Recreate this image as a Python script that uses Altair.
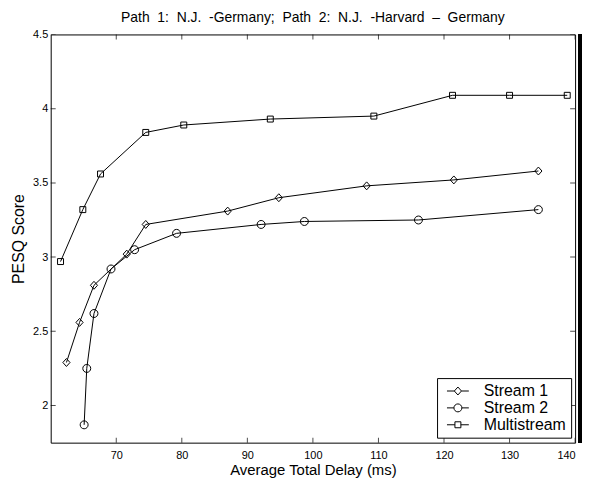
import altair as alt
import pandas as pd

# ---- data ----
series_names = ["Stream 1", "Stream 2", "Multistream"]

stream1_delay = [62.4, 64.4, 66.6, 71.6, 74.5, 87.0, 94.8, 108.2, 121.5, 134.4]
stream1_pesq = [2.29, 2.56, 2.81, 3.02, 3.22, 3.31, 3.40, 3.48, 3.52, 3.58]

stream2_delay = [65.1, 65.5, 66.6, 69.2, 72.8, 79.2, 92.1, 98.7, 116.1, 134.4]
stream2_pesq = [1.87, 2.25, 2.62, 2.92, 3.05, 3.16, 3.22, 3.24, 3.25, 3.32]

multi_delay = [61.5, 64.9, 67.6, 74.5, 80.3, 93.5, 109.3, 121.3, 130.0, 138.8]
multi_pesq = [2.97, 3.32, 3.56, 3.84, 3.89, 3.93, 3.95, 4.09, 4.09, 4.09]

x_ticks = [70, 80, 90, 100, 110, 120, 130, 140]
y_ticks = [2, 2.5, 3, 3.5, 4, 4.5]

X_DOMAIN = [60, 140]
Y_DOMAIN = [1.75, 4.5]

title_words = ["Path", "1:", "N.J.", "-Germany;", "Path", "2:", "N.J.", "-Harvard", "\u2013", "Germany"]
title_text = " \u00a0".join(title_words)

# ---- tables ----
rows = []
for name, xs, ys in zip(series_names,
                        [stream1_delay, stream2_delay, multi_delay],
                        [stream1_pesq, stream2_pesq, multi_pesq]):
    for i, (xv, yv) in enumerate(zip(xs, ys)):
        rows.append({"series": name, "delay": xv, "pesq": yv, "idx": i})
df = pd.DataFrame(rows)

xt = pd.DataFrame({"t": x_ticks})
yt = pd.DataFrame({"t": y_ticks})

FONT = "Liberation Sans"

xscale = alt.Scale(domain=X_DOMAIN, nice=False, zero=False)
yscale = alt.Scale(domain=Y_DOMAIN, nice=False, zero=False)

X = alt.X("delay:Q", scale=xscale,
          axis=alt.Axis(values=x_ticks, title="Average Total Delay (ms)",
                        tickSize=0, domain=False, grid=False, labelPadding=7,
                        titlePadding=2, labelFont=FONT, labelFontSize=11,
                        labelColor="black", titleFont=FONT, titleFontSize=15,
                        titleFontWeight="normal", titleColor="black"))
Y = alt.Y("pesq:Q", scale=yscale,
          axis=alt.Axis(values=y_ticks, format="~g", title="PESQ Score",
                        tickSize=0, domain=False, grid=False, labelPadding=3,
                        titlePadding=6, labelFont=FONT, labelFontSize=11,
                        labelColor="black", titleFont=FONT, titleFontSize=16,
                        titleFontWeight="normal", titleColor="black"))

marker_paths = [
    "M0,-1L0.9,0L0,1L-0.9,0Z",
    "M1,0A1,1 0 1,1 -1,0A1,1 0 1,1 1,0Z",
    "M-0.75,-0.75H0.75V0.75H-0.75Z",
]
legend_paths = [
    "M-2.75,0H-0.9M0.9,0H2.75M0,-1L0.9,0L0,1L-0.9,0Z",
    "M-2.75,0H-1M1,0H2.75M1,0A1,1 0 1,1 -1,0A1,1 0 1,1 1,0Z",
    "M-2.75,0H-0.75M0.75,0H2.75M-0.75,-0.75H0.75V0.75H-0.75Z",
]

base = alt.Chart(df)

lines = base.mark_line(color="black", strokeWidth=1).encode(
    x=X, y=Y, detail="series:N", order="idx:Q"
)

points = base.mark_point(filled=False, color="black", strokeWidth=1, size=64, opacity=1).encode(
    x=X, y=Y,
    shape=alt.Shape("series:N",
                    scale=alt.Scale(domain=series_names, range=marker_paths),
                    legend=None),
)

legend_layer = base.mark_point(filled=False, color="black", strokeWidth=1, size=64, opacity=0).encode(
    x=X, y=Y,
    shape=alt.Shape("series:N",
                    scale=alt.Scale(domain=series_names, range=legend_paths),
                    legend=alt.Legend(title=None, orient="none", legendX=389, legendY=346,
                                      symbolSize=64, symbolStrokeWidth=1,
                                      symbolStrokeColor="black", symbolFillColor="transparent",
                                      symbolOffset=8, labelOffset=18,
                                      labelFont=FONT, labelFontSize=16, labelColor="black",
                                      rowPadding=1, padding=5,
                                      strokeColor="black", fillColor="white")),
)

tick_len = 10
bottom_ticks = alt.Chart(xt).mark_tick(color="black", orient="vertical", size=tick_len,
                                       thickness=1, clip=True).encode(
    x=alt.X("t:Q", scale=xscale), y=alt.datum(Y_DOMAIN[0]))
top_ticks = alt.Chart(xt).mark_tick(color="black", orient="vertical", size=tick_len,
                                    thickness=1, clip=True).encode(
    x=alt.X("t:Q", scale=xscale), y=alt.datum(Y_DOMAIN[1]))
left_ticks = alt.Chart(yt).mark_tick(color="black", orient="horizontal", size=tick_len,
                                     thickness=1, clip=True).encode(
    y=alt.Y("t:Q", scale=yscale), x=alt.datum(X_DOMAIN[0]))
right_ticks = alt.Chart(yt).mark_tick(color="black", orient="horizontal", size=tick_len,
                                      thickness=1, clip=True).encode(
    y=alt.Y("t:Q", scale=yscale), x=alt.datum(X_DOMAIN[1]))

edge = alt.Chart(xt).mark_rule(color="black", strokeWidth=3.5, xOffset=5).encode(
    x=alt.datum(X_DOMAIN[1]), y=alt.datum(Y_DOMAIN[1]), y2=alt.datum(Y_DOMAIN[0]))

chart = alt.layer(
    lines, points, legend_layer, bottom_ticks, top_ticks, left_ticks, right_ticks, edge
).resolve_scale(shape="independent").properties(
    width=528,
    height=411,
    background="white",
    padding={"left": 43, "top": 25, "right": 15, "bottom": 40},
    autosize=alt.AutoSizeParams(type="none"),
    title=alt.Title(title_text, font=FONT, fontSize=14, fontWeight="normal",
                    color="black", anchor="middle", offset=4),
).configure_view(
    stroke="black", strokeWidth=1
)

chart.save("out.html", embed_options={"renderer": "svg", "actions": False})
